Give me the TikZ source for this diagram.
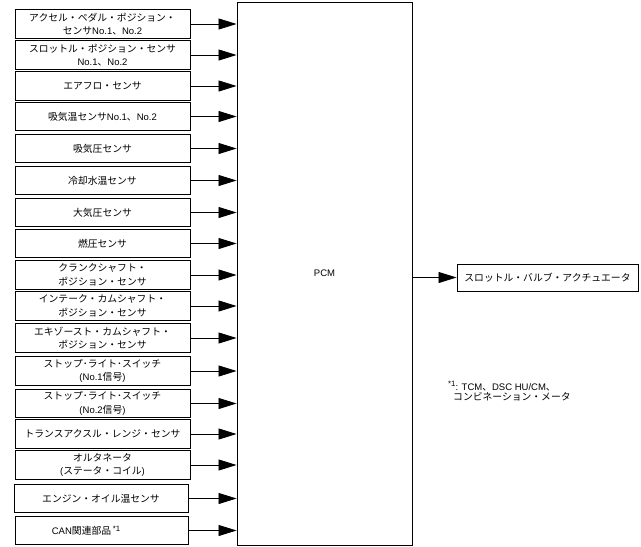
\documentclass[tikz,border=0pt]{standalone}
\usepackage{fontspec}
\setmainfont{Noto Sans CJK JP}
\newfontfamily\lat[Scale=0.97]{Liberation Sans}
\newcommand\fnmk{\raisebox{3.5pt}{\lat\fontsize{8}{8}\selectfont *1}}
\usetikzlibrary{arrows.meta}
\tikzset{
  inbox/.style={draw=black, line width=0.9pt, minimum width=175pt, minimum height=28.5pt, inner sep=0pt, align=center, font=\fontsize{9.8}{13.5}\selectfont},
  arr/.style={line width=0.8pt, -{Triangle[length=18pt,width=11pt]}},
  pcmbox/.style={draw=black, line width=0.9pt, minimum width=175pt, minimum height=543pt, inner sep=0pt, font=\lat\fontsize{9.8}{12}\selectfont},
  outbox/.style={draw=black, line width=0.9pt, minimum width=181pt, minimum height=27pt, inner sep=0pt, font=\fontsize{9.8}{12}\selectfont},
  note/.style={inner sep=0pt, align=left, anchor=north west, font=\fontsize{9.8}{10.5}\selectfont}
}
\begin{document}
\begin{tikzpicture}[x=1pt,y=-1pt]
\useasboundingbox (0,0) rectangle (641,547);
\node[pcmbox] (pcm) at (324.5,273.5) {PCM};
\node[inbox] (b1) at (102.5,24) {アクセル・ペダル・ポジション・\\センサ{\lat No.1}、{\lat No.2}};
\node[inbox] (b2) at (102.5,55) {スロットル・ポジション・センサ\\{\lat No.1}、{\lat No.2}};
\node[inbox] (b3) at (102.5,86) {エアフロ・センサ};
\node[inbox] (b4) at (102.5,116.5) {吸気温センサ{\lat No.1}、{\lat No.2}};
\node[inbox] (b5) at (102.5,148.5) {吸気圧センサ};
\node[inbox] (b6) at (102.5,180.5) {冷却水温センサ};
\node[inbox] (b7) at (102.5,212.5) {大気圧センサ};
\node[inbox] (b8) at (102.5,243.5) {燃圧センサ};
\node[inbox] (b9) at (102.5,275) {クランクシャフト・\\ポジション・センサ};
\node[inbox] (b10) at (102.5,306) {インテーク・カムシャフト・\\ポジション・センサ};
\node[inbox] (b11) at (102.5,338) {エキゾースト・カムシャフト・\\ポジション・センサ};
\node[inbox] (b12) at (102.5,371) {ストップ･ライト･スイッチ\\{\lat (No.1}信号{\lat )}};
\node[inbox] (b13) at (102.5,403.5) {ストップ･ライト･スイッチ\\{\lat (No.2}信号{\lat )}};
\node[inbox] (b14) at (102.5,434) {トランスアクスル・レンジ・センサ};
\node[inbox] (b15) at (102.5,465) {オルタネータ\\{\lat (}ステータ・コイル{\lat )}};
\node[inbox, minimum width=174pt] (b16) at (101,498.5) {エンジン・オイル温センサ};
\node[inbox, minimum width=173pt] (b17) at (101.5,530.5) {{\lat CAN}関連部品\,\fnmk\hspace*{31pt}};
\foreach \i in {1,...,17}{
  \draw[arr] (b\i.east) -- (b\i.east -| pcm.west);
}
\node[outbox] (out) at (547.5,277.5) {スロットル・バルブ・アクチュエータ};
\draw[arr] (out.west -| pcm.east) -- (out.west);
\node[note] (fn) at (448,381) {\fnmk{\lat: TCM}、{\lat DSC HU/CM}、\\\hspace*{5pt}コンビネーション・メータ};
\end{tikzpicture}
\end{document}
